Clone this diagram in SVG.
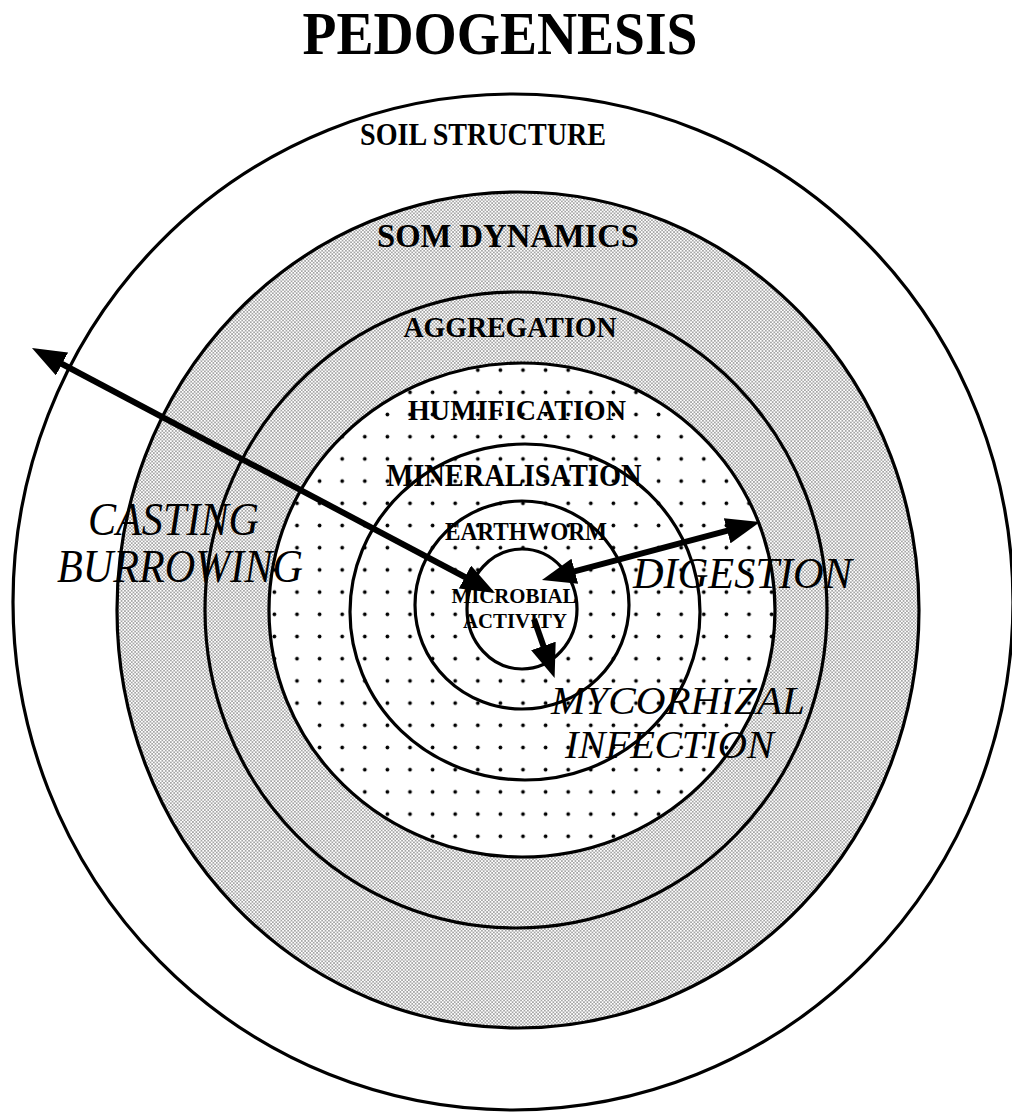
<svg xmlns="http://www.w3.org/2000/svg" width="1012" height="1112" viewBox="0 0 1012 1112">
<style>
.ring{fill:none;stroke:#000;stroke-width:3.2}
.lbl{font-family:"Liberation Serif","Times New Roman",serif;font-weight:bold;fill:#000;text-anchor:middle}
.it{font-family:"Liberation Serif","Times New Roman",serif;font-style:italic;fill:#000}
.arr{fill:none;stroke:#000;stroke-width:6}
</style>
<defs>
<pattern id="gray" patternUnits="userSpaceOnUse" width="3.4" height="3.4">
<rect width="3.4" height="3.4" fill="#fff"/>
<circle cx="0.85" cy="0.85" r="0.7" fill="#333"/>
<circle cx="2.55" cy="2.55" r="0.7" fill="#333"/>
</pattern>
<pattern id="dots" patternUnits="userSpaceOnUse" x="-8.1" y="425.6" width="22.6" height="22.2">
<rect width="22.6" height="22.2" fill="#fff"/>
<circle cx="11.3" cy="11.1" r="1.9" fill="#000"/>
</pattern>
<marker id="ah" markerUnits="userSpaceOnUse" markerWidth="34" markerHeight="26" refX="17" refY="13" orient="auto-start-reverse">
<path d="M0,0 L34,13 L0,26 z" fill="#000"/>
</marker>
</defs>
<rect width="1012" height="1112" fill="#fff"/>
<g id="title"><text class="lbl" x="500" y="54" font-size="62" textLength="395" lengthAdjust="spacingAndGlyphs">PEDOGENESIS</text></g>
<g id="soil-structure">
<ellipse cx="513" cy="602" rx="500" ry="508" fill="#fff" stroke="#000" stroke-width="3.2"/>
<text class="lbl" x="483" y="145" font-size="32" textLength="246" lengthAdjust="spacingAndGlyphs">SOIL STRUCTURE</text>
</g>
<g id="som-dynamics">
<ellipse cx="518" cy="610" rx="401" ry="418" fill="url(#gray)" stroke="#000" stroke-width="3.2"/>
<text class="lbl" x="508" y="247" font-size="34" textLength="262" lengthAdjust="spacingAndGlyphs">SOM DYNAMICS</text>
</g>
<g id="aggregation">
<ellipse class="ring" cx="516" cy="610" rx="311" ry="318"/>
<text class="lbl" x="510" y="337" font-size="30" textLength="213" lengthAdjust="spacingAndGlyphs">AGGREGATION</text>
</g>
<g id="humification">
<ellipse cx="522" cy="610" rx="253" ry="247" fill="url(#dots)" stroke="#000" stroke-width="3.2"/>
<text class="lbl" x="517" y="420" font-size="29" textLength="218" lengthAdjust="spacingAndGlyphs">HUMIFICATION</text>
</g>
<g id="mineralisation">
<ellipse class="ring" cx="525" cy="612" rx="175" ry="168"/>
<text class="lbl" x="514" y="486" font-size="31" textLength="255" lengthAdjust="spacingAndGlyphs">MINERALISATION</text>
</g>
<g id="earthworm">
<ellipse class="ring" cx="522" cy="605" rx="107" ry="104"/>
<text class="lbl" x="526" y="540" font-size="25" textLength="162" lengthAdjust="spacingAndGlyphs">EARTHWORM</text>
</g>
<g id="microbial-activity">
<ellipse cx="522" cy="609" rx="55" ry="60" fill="#fff" stroke="#000" stroke-width="3.2"/>
<text class="lbl" x="514" y="603" font-size="22" textLength="125" lengthAdjust="spacingAndGlyphs">MICROBIAL</text>
<text class="lbl" x="515" y="628" font-size="22" textLength="104" lengthAdjust="spacingAndGlyphs">ACTIVITY</text>
</g>
<g id="casting-burrowing">
<text class="it" x="88" y="535" font-size="46" textLength="171" lengthAdjust="spacingAndGlyphs">CASTING</text>
<text class="it" x="57" y="582" font-size="46" textLength="246" lengthAdjust="spacingAndGlyphs">BURROWING</text>
</g>
<g id="digestion">
<text class="it" x="633" y="588" font-size="44" textLength="219" lengthAdjust="spacingAndGlyphs">DIGESTION</text>
</g>
<g id="mycorhizal-infection">
<text class="it" x="551" y="714" font-size="40" textLength="254" lengthAdjust="spacingAndGlyphs">MYCORHIZAL</text>
<text class="it" x="565" y="758" font-size="40" textLength="209" lengthAdjust="spacingAndGlyphs">INFECTION</text>
</g>
<g id="connectors">
<line class="arr" x1="47" y1="356" x2="480" y2="585" marker-start="url(#ah)" marker-end="url(#ah)"/>
<line class="arr" x1="558.4" y1="575.6" x2="743.6" y2="526.4" marker-start="url(#ah)" marker-end="url(#ah)"/>
<line class="arr" x1="534" y1="619" x2="549" y2="662" marker-end="url(#ah)"/>
</g>
</svg>
